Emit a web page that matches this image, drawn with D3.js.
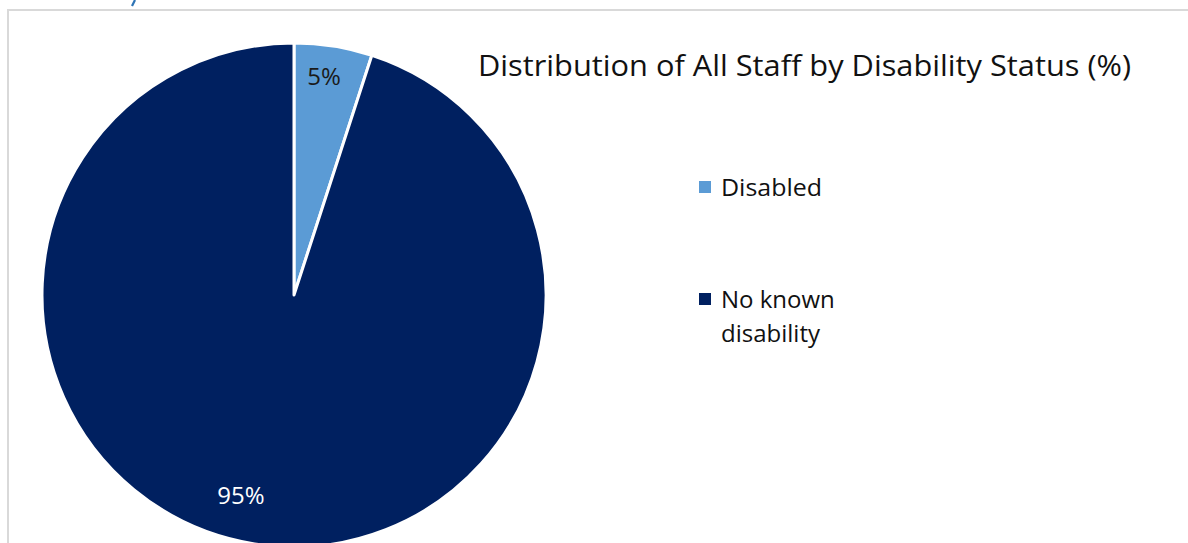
<!DOCTYPE html>
<html><head><meta charset="utf-8">
<script src="https://cdn.jsdelivr.net/npm/d3@7"></script>
<style>body{margin:0;background:#fff;overflow:hidden}svg{display:block}</style>
</head><body>
<svg id="c" width="1188" height="543"></svg>
<script>
const categories = ["Disabled", "No known disability"];
const values = [5, 95];
const labels = ["5%", "95%"];
const colors = ["#5B9BD5", "#002060"];
const title = "Distribution of All Staff by Disability Status (%)";

const svg = d3.select("#c");
const font = "'Open Sans', 'Noto Sans', sans-serif";

// frame
svg.append("path").attr("d","M8,543 L8,10 L1188,10").attr("fill","none").attr("stroke","#D9D9D9").attr("stroke-width",2);
// cut-off heading glyph fragment above the frame
svg.append("path").attr("d","M135,0 L132,6").attr("stroke","#2E74B5").attr("stroke-width",2.2).attr("fill","none");

const cx = 294, cy = 295, r = 252;
const pie = d3.pie().sort(null).value(d=>d)(values);
const arc = d3.arc().innerRadius(0).outerRadius(r);
const g = svg.append("g").attr("transform",`translate(${cx},${cy})`);
g.selectAll("path").data(pie).join("path")
  .attr("d",arc).attr("fill",(d,i)=>colors[i])
  .attr("stroke","#fff").attr("stroke-width",3).attr("stroke-linejoin","round");

const labelPos = [[324-cx, 85-cy],[241-cx, 504-cy]];
g.selectAll("text.lbl").data(pie).join("text").attr("class","lbl")
  .attr("x",(d,i)=>labelPos[i][0]).attr("y",(d,i)=>labelPos[i][1])
  .attr("text-anchor","middle").attr("font-family",font).attr("font-size",24)
  .attr("fill",(d,i)=> i===0 ? "#1a1a1a" : "#ffffff")
  .text((d,i)=>labels[i]);

svg.append("text").attr("x",478).attr("y",76).attr("font-family",font).attr("font-size",30)
  .attr("fill","#111").attr("textLength",653).attr("lengthAdjust","spacingAndGlyphs").text(title);

const leg = [
  {y:187, lines:["Disabled"]},
  {y:299, lines:["No known","disability"]}
];
leg.forEach((l,i)=>{
  svg.append("rect").attr("x",699).attr("y",l.y-6).attr("width",12).attr("height",12).attr("fill",colors[i]);
  const t = svg.append("text").attr("x",721).attr("y",l.y+9).attr("font-family",font).attr("font-size",24).attr("fill","#111");
  l.lines.forEach((s,j)=> t.append("tspan").attr("x",721).attr("dy", j===0?0:34).attr("textLength", s==="Disabled"?101:null).attr("lengthAdjust","spacingAndGlyphs").text(s));
});
</script>
</body></html>
